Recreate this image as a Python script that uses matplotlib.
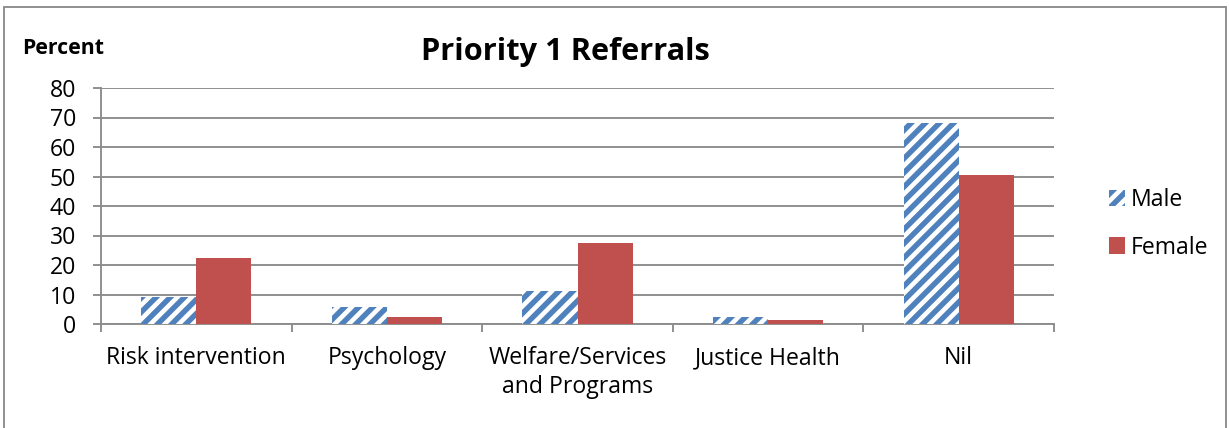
import matplotlib
matplotlib.use("Agg")
import matplotlib.pyplot as plt
import numpy as np
from matplotlib.patches import Rectangle

categories = ["Risk intervention", "Psychology", "Welfare/Services\nand Programs", "Justice Health", "Nil"]
male = [9.2, 5.7, 11.3, 2.3, 68.0]
female = [22.5, 2.5, 27.6, 1.4, 50.5]
yticks = [0, 10, 20, 30, 40, 50, 60, 70, 80]

DPI = 85
W, H = 1229, 428
plt.rcParams['font.family'] = ['Open Sans', 'DejaVu Sans']
plt.rcParams['hatch.linewidth'] = 4.6

fig = plt.figure(figsize=(W / DPI, H / DPI), dpi=DPI)
ax = fig.add_axes([101 / W, 1 - 324 / H, (1054 - 101) / W, (324 - 88) / H])

blue = '#4F81BD'
red = '#C0504D'
grid = '#8C8C8C'
FS = 19.5

x = np.arange(len(categories))
bw = 0.289
ax.bar(x - bw / 2, male, bw, facecolor='white', edgecolor=blue, hatch='//', linewidth=0, label='Male', zorder=3)
ax.bar(x + bw / 2, female, bw, color=red, linewidth=0, label='Female', zorder=3)

ax.set_xlim(-0.5, len(categories) - 0.5)
ax.set_ylim(0, 80)
ax.set_yticks(yticks)
ax.set_yticklabels([str(v) for v in yticks], fontsize=FS)
ax.yaxis.grid(True, color=grid, linewidth=1.6, zorder=0)
ax.set_axisbelow(True)

ax.set_xticks(np.arange(len(categories) + 1) - 0.5)
ax.set_xticklabels([])
ax.set_xticks(x, minor=True)
ax.set_xticklabels(categories, minor=True, fontsize=FS, linespacing=1.25)
ax.tick_params(axis='x', which='minor', length=0, pad=19)
ax.tick_params(axis='x', which='major', length=7, width=1.6, color=grid)
ax.tick_params(axis='y', length=7, width=1.6, color=grid, pad=14)

for s in ['top', 'right']:
    ax.spines[s].set_visible(False)
for s in ['left', 'bottom']:
    ax.spines[s].set_color(grid)
    ax.spines[s].set_linewidth(1.6)

fig.text(565 / W, 1 - 52 / H, "Priority 1 Referrals", fontsize=26, fontweight='bold', ha='center', va='center')
fig.text(22 / W, 1 - 48 / H, "Percent", fontsize=18, fontweight='bold', ha='left', va='center')

leg = fig.legend(loc='center left', bbox_to_anchor=(1109 / W, 1 - 224 / H), frameon=False,
                 fontsize=FS, handlelength=0.7, handleheight=0.7, handletextpad=0.25, labelspacing=1.0,
                 borderaxespad=0, borderpad=0)

fig.patches.append(Rectangle((4 / W, -0.1), (1226 - 4) / W, 1.1 - 7 / H, transform=fig.transFigure,
                             fill=False, edgecolor=grid, linewidth=1.6))

fig.savefig('out.png', dpi=DPI)
